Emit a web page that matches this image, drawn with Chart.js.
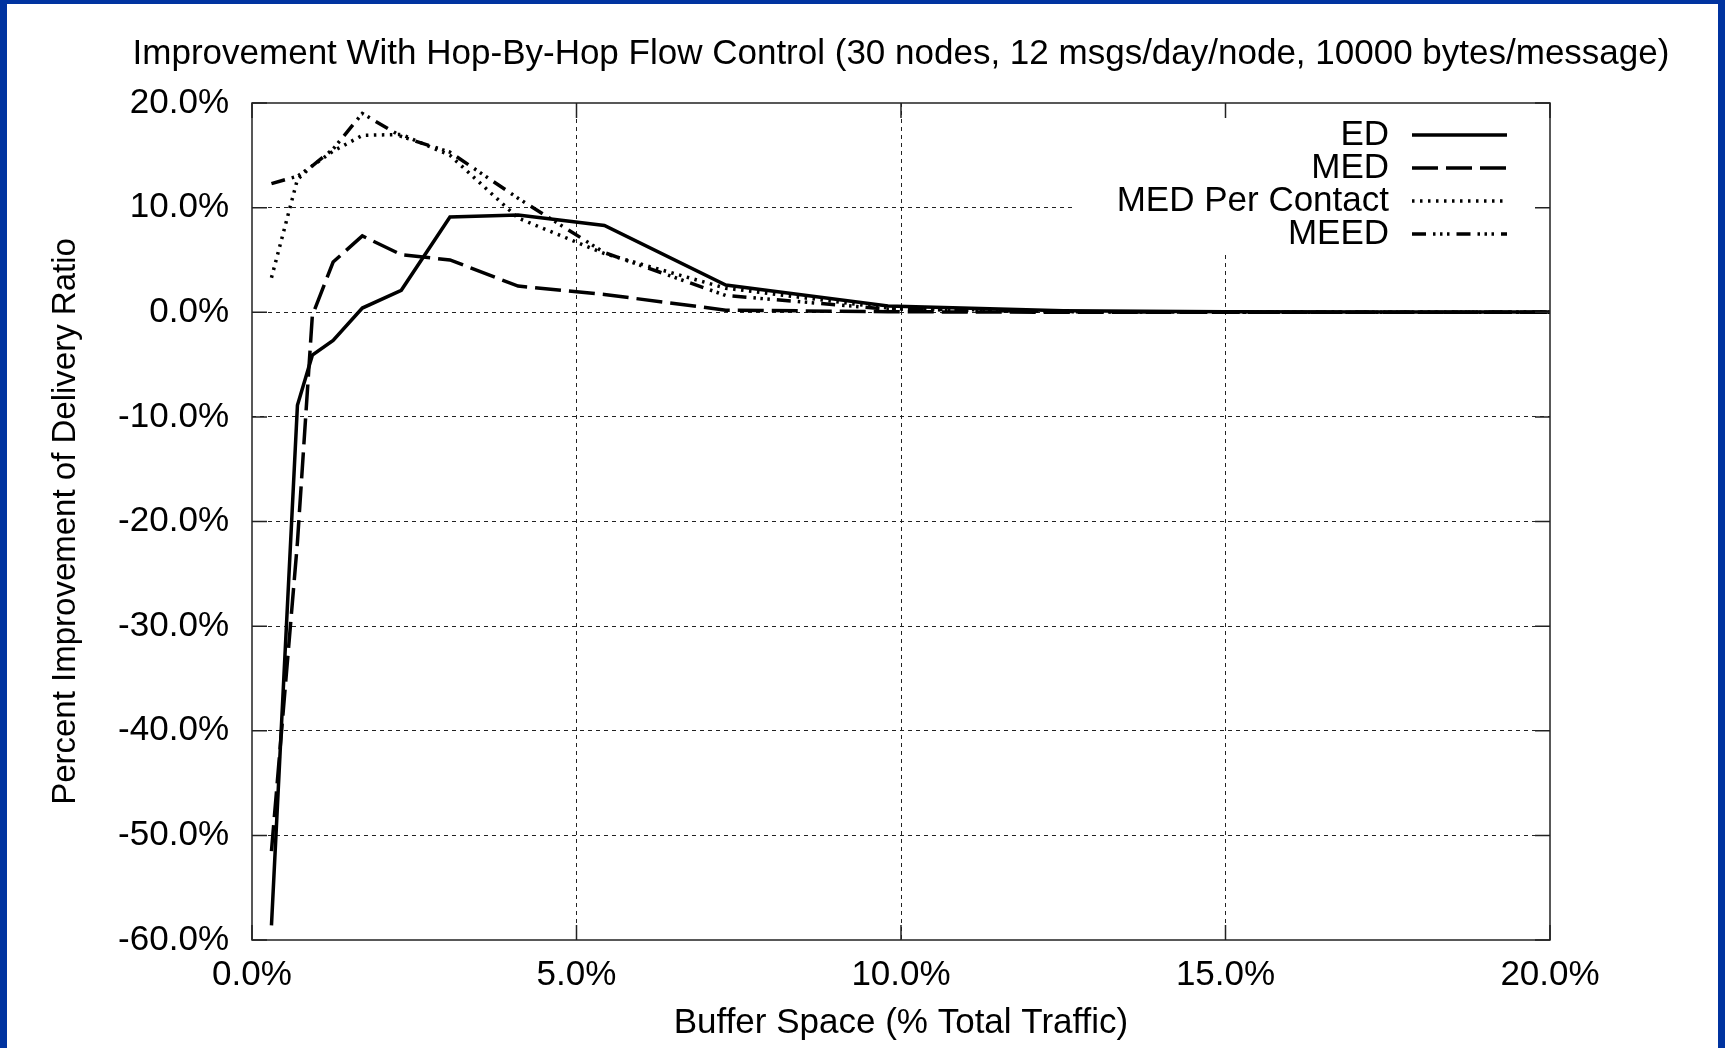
<!DOCTYPE html>
<html>
<head>
<meta charset="utf-8">
<script src="https://cdn.jsdelivr.net/npm/chart.js@4.4.0/dist/chart.umd.min.js"></script>
<style>
  html, body { margin: 0; padding: 0; background: #0033a0; width: 1725px; height: 1048px; overflow: hidden; }
  #frame { position: absolute; left: 7px; top: 4px; width: 1711px; height: 1044px; background: #fff; }
  canvas { display: block; }
</style>
</head>
<body>
<div id="frame"><canvas id="chart" width="1711" height="1044"></canvas></div>
<script>
// buffer space (% of total traffic) and improvement (%) per scheme
const bufferSpace = [0.3, 0.7, 0.93, 1.25, 1.7, 2.3, 3.05, 4.1, 5.43, 7.3, 9.8, 12.5, 15, 17.5, 20];
const edValues = [-58.6, -8.9, -4.1, -2.7, 0.4, 2.1, 9.1, 9.3, 8.3, 2.6, 0.6, 0.15, 0.05, 0.02, 0.02];
const medValues = [-51.5, -22, -0.3, 4.8, 7.3, 5.5, 5.0, 2.5, 1.7, 0.2, 0.05, 0, 0, 0, 0];
const medPerContactValues = [3.3, 12.7, 14.0, 15.4, 16.9, 17.0, 15.0, 9.0, 5.6, 2.3, 0.4, 0.05, 0, 0, 0];
const meedValues = [12.3, 13.0, 14.0, 15.6, 19.0, 16.8, 15.3, 10.9, 5.7, 1.6, 0.3, 0.05, 0, 0, 0];

const xRange = [0, 20];
const yRange = [-60, 20];

const FONT = '"Liberation Sans", Arial, sans-serif';
const toPoints = vals => vals.map((v, i) => ({ x: bufferSpace[i], y: v }));
const pct = v => Number(v).toFixed(1) + '%';

// gnuplot look: white legend box, full frame, inward ticks on all sides
const gnuplotFrame = {
  id: 'gnuplotFrame',
  afterDatasetsDraw(chart, args, opts) {
    const { ctx, chartArea: a, scales } = chart;
    ctx.save();

    ctx.fillStyle = '#fff';
    ctx.fillRect(opts.boxLeft, a.top + 12, a.right - opts.boxLeft - 1, opts.boxHeight);

    ctx.font = '35px ' + FONT;
    ctx.textAlign = 'right';
    ctx.textBaseline = 'middle';
    chart.data.datasets.forEach((ds, i) => {
      const yy = opts.rowTop + i * opts.rowGap;
      ctx.fillStyle = '#000';
      ctx.fillText(ds.label, opts.textRight, yy);
      ctx.beginPath();
      ctx.setLineDash(ds.borderDash || []);
      ctx.lineWidth = ds.borderWidth;
      ctx.strokeStyle = ds.borderColor;
      ctx.moveTo(opts.sampleLeft, yy);
      ctx.lineTo(opts.sampleRight, yy);
      ctx.stroke();
    });

    ctx.setLineDash([]);
    ctx.strokeStyle = '#222';
    ctx.lineWidth = 1.5;
    ctx.beginPath();
    scales.x.ticks.forEach(t => {
      const px = scales.x.getPixelForValue(t.value);
      ctx.moveTo(px, a.bottom); ctx.lineTo(px, a.bottom - opts.tick);
      ctx.moveTo(px, a.top); ctx.lineTo(px, a.top + opts.tick);
    });
    scales.y.ticks.forEach(t => {
      const py = scales.y.getPixelForValue(t.value);
      ctx.moveTo(a.left, py); ctx.lineTo(a.left + opts.tick, py);
      ctx.moveTo(a.right, py); ctx.lineTo(a.right - opts.tick, py);
    });
    ctx.stroke();
    ctx.strokeRect(a.left, a.top, a.right - a.left, a.bottom - a.top);
    ctx.restore();
  }
};

const gridColor = range => c => (c.tick && (c.tick.value === range[0] || c.tick.value === range[1])) ? 'rgba(0,0,0,0)' : '#222';

new Chart(document.getElementById('chart'), {
  type: 'line',
  data: {
    datasets: [
      { label: 'ED', data: toPoints(edValues), borderColor: '#000', borderWidth: 3.5, borderDash: [] },
      { label: 'MED', data: toPoints(medValues), borderColor: '#000', borderWidth: 3.5, borderDash: [26, 8] },
      { label: 'MED Per Contact', data: toPoints(medPerContactValues), borderColor: '#000', borderWidth: 3.5, borderDash: [2.5, 5.5] },
      { label: 'MEED', data: toPoints(meedValues), borderColor: '#000', borderWidth: 3.5, borderDash: [14, 7, 2.5, 4.5, 2.5, 4.5, 2.5, 7] }
    ]
  },
  options: {
    responsive: false,
    animation: false,
    devicePixelRatio: 1,
    // left padding shifts the full-width title so it centres over the plot
    layout: { padding: { left: 77, right: 0, top: 0, bottom: 0 } },
    elements: {
      point: { radius: 0 },
      line: { tension: 0, fill: false, borderJoinStyle: 'miter' }
    },
    plugins: {
      legend: { display: false },
      tooltip: { enabled: false },
      title: {
        display: true,
        text: 'Improvement With Hop-By-Hop Flow Control (30 nodes, 12 msgs/day/node, 10000 bytes/message)',
        color: '#000',
        font: { family: FONT, size: 35, weight: 'normal' },
        padding: { top: 29, bottom: 28 }
      },
      gnuplotFrame: {
        boxLeft: 1065, boxHeight: 138,
        textRight: 1382, sampleLeft: 1405, sampleRight: 1500,
        rowTop: 131, rowGap: 33, tick: 15
      }
    },
    scales: {
      x: {
        type: 'linear',
        min: xRange[0], max: xRange[1],
        ticks: { stepSize: 5, callback: pct, color: '#000', font: { family: FONT, size: 35 }, padding: 14, maxRotation: 0 },
        grid: { color: gridColor(xRange), lineWidth: 1, drawTicks: false },
        border: { display: false, dash: [4, 4] },
        title: { display: true, text: 'Buffer Space (% Total Traffic)', color: '#000', font: { family: FONT, size: 35 }, padding: { top: 0, bottom: 4 } },
        afterFit: s => { s.height = 108; s.paddingLeft = 0; s.paddingRight = 0; }
      },
      y: {
        min: yRange[0], max: yRange[1],
        ticks: { stepSize: 10, callback: pct, color: '#000', font: { family: FONT, size: 35 }, padding: 23 },
        grid: { color: gridColor(yRange), lineWidth: 1, drawTicks: false },
        border: { display: false, dash: [4, 4] },
        title: { display: true, text: 'Percent Improvement of Delivery Ratio', color: '#000', font: { family: FONT, size: 33 }, padding: { top: -37.8, bottom: 0 } },
        afterFit: s => { s.width = 168; s.paddingTop = 0; s.paddingBottom = 0; }
      },
      yRight: {
        position: 'right',
        min: yRange[0], max: yRange[1],
        ticks: { display: false },
        grid: { display: false, drawTicks: false },
        border: { display: false },
        afterFit: s => { s.width = 168; s.paddingTop = 0; s.paddingBottom = 0; }
      }
    }
  },
  plugins: [gnuplotFrame]
});
</script>
</body>
</html>
